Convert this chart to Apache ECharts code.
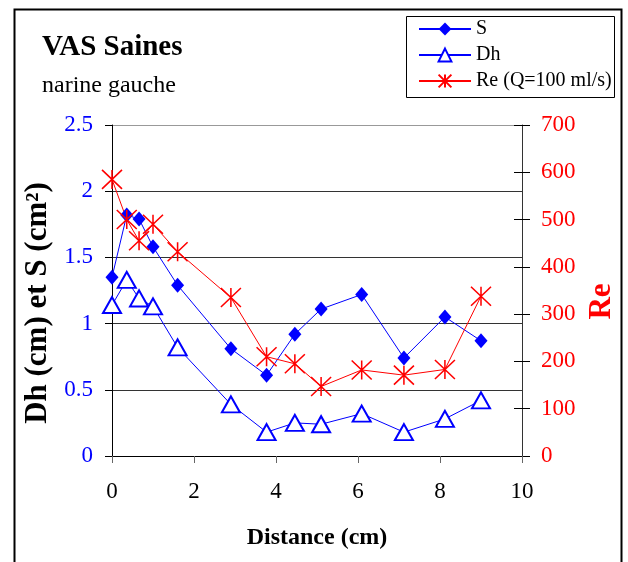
<!DOCTYPE html>
<html>
<head>
<meta charset="utf-8">
<script src="https://cdn.jsdelivr.net/npm/echarts@6/dist/echarts.min.js"></script>
<style>html,body{margin:0;padding:0;background:#fff}#c{width:628px;height:562px}</style>
</head>
<body>
<div id="c"></div>
<script>
// Data
const distance = [0, 0.36, 0.66, 1.0, 1.6, 2.9, 3.77, 4.46, 5.1, 6.09, 7.12, 8.12, 9.0];
const sValues  = [1.35, 1.82, 1.79, 1.58, 1.29, 0.81, 0.61, 0.92, 1.11, 1.22, 0.74, 1.05, 0.87];
const dhValues = [1.14, 1.33, 1.19, 1.13, 0.82, 0.39, 0.18, 0.25, 0.24, 0.32, 0.18, 0.28, 0.42];
const reValues = [585, 500, 455, 490, 432, 335, 210, 195, 147, 182, 171, 183, 338];
const seriesNames = ['S', 'Dh', 'Re (Q=100 ml/s)'];
const titleText = 'VAS Saines';
const subtitleText = 'narine gauche';
const xAxisTitle = 'Distance (cm)';
const leftAxisTitle = 'Dh (cm) et S (cm²)';
const rightAxisTitle = 'Re';

const FONT = 'Liberation Serif, Times New Roman, serif';
const BLUE = '#0000ff', RED = '#ff0000';
const pairs = (ys) => distance.map((d, i) => [d, ys[i]]);

const chart = echarts.init(document.getElementById('c'), null, {renderer: 'canvas'});
chart.setOption({
  backgroundColor: '#fff',
  animation: false,
  title: {
    text: titleText, subtext: subtitleText, left: 37, top: 28, itemGap: 12,
    textStyle: {fontFamily: FONT, fontSize: 29, fontWeight: 'bold', color: '#000'},
    subtextStyle: {fontFamily: FONT, fontSize: 24, color: '#000'}
  },
  graphic: [
    {type: 'rect', shape: {x: 14.5, y: 9.5, width: 607, height: 600}, style: {fill: 'none', stroke: '#000', lineWidth: 2}, z: 0, silent: true},
    {type: 'rect', shape: {x: 406.5, y: 16.5, width: 208, height: 81}, style: {fill: '#fff', stroke: '#000', lineWidth: 1}, z: 1, silent: true}
  ],
  legend: {
    data: seriesNames, orient: 'vertical', left: 413, top: 14,
    itemWidth: 52, itemHeight: 16, itemGap: 6, z: 5,
    textStyle: {fontFamily: FONT, fontSize: 20, lineHeight: 16, color: '#000'}
  },
  grid: {left: 112, right: 106, top: 125, bottom: 106, containLabel: false},
  xAxis: {
    type: 'value', min: 0, max: 10, interval: 2,
    name: xAxisTitle, nameLocation: 'middle', nameGap: 70,
    nameTextStyle: {fontFamily: FONT, fontSize: 24, fontWeight: 'bold', color: '#000'},
    axisLine: {show: true, lineStyle: {color: '#000', width: 1}},
    axisTick: {show: true, inside: false, length: 7, lineStyle: {color: '#666'}},
    axisLabel: {fontFamily: FONT, fontSize: 23, color: '#000', margin: 24},
    splitLine: {show: false}
  },
  yAxis: [
    {
      type: 'value', min: 0, max: 2.5, interval: 0.5, position: 'left',
      name: leftAxisTitle, nameLocation: 'middle', nameGap: 56, nameRotate: 90,
      nameTextStyle: {fontFamily: FONT, fontSize: 31, fontWeight: 'bold', color: '#000', padding: [0, 25, 0, 0]},
      axisLine: {show: true, lineStyle: {color: '#000', width: 1}},
      axisTick: {show: true, inside: false, length: 7, lineStyle: {color: '#000'}},
      axisLabel: {fontFamily: FONT, fontSize: 23, color: BLUE, margin: 19},
      splitLine: {show: true, lineStyle: {color: ['#000', '#333', '#333', '#333', '#333', '#999'], width: 1}}
    },
    {
      type: 'value', min: 0, max: 700, interval: 100, position: 'right',
      name: rightAxisTitle, nameLocation: 'middle', nameGap: 62, nameRotate: 90,
      nameTextStyle: {fontFamily: FONT, fontSize: 31, fontWeight: 'bold', color: RED, padding: [0, 22, 0, 0]},
      axisLine: {show: true, lineStyle: {color: '#333', width: 1}},
      axisTick: {show: true, inside: false, length: 8, lineStyle: {color: '#000'}},
      axisLabel: {fontFamily: FONT, fontSize: 23, color: RED, margin: 19},
      splitLine: {show: false}
    },
    {
      type: 'value', min: 0, max: 700, interval: 100, position: 'right',
      axisLine: {show: false},
      axisTick: {show: true, inside: true, length: 8, lineStyle: {color: '#000'}},
      axisLabel: {show: false},
      splitLine: {show: false}
    }
  ],
  series: [
    {
      name: seriesNames[0], type: 'line', yAxisIndex: 0, data: pairs(sValues),
      symbol: 'diamond', symbolSize: [13, 15],
      lineStyle: {color: BLUE, width: 1},
      itemStyle: {color: BLUE}
    },
    {
      name: seriesNames[1], type: 'line', yAxisIndex: 0, data: pairs(dhValues),
      symbol: 'triangle', symbolSize: [18, 16],
      lineStyle: {color: BLUE, width: 1},
      itemStyle: {color: '#fff', borderColor: BLUE, borderWidth: 2}
    },
    {
      name: seriesNames[2], type: 'line', yAxisIndex: 1, data: pairs(reValues),
      symbol: 'path://M0,0L20,20M20,0L0,20M10,0L10,20', symbolSize: [20, 19], symbolKeepAspect: false,
      lineStyle: {color: RED, width: 1},
      itemStyle: {color: 'rgba(0,0,0,0)', borderColor: RED, borderWidth: 1.5}
    }
  ]
});
</script>
</body>
</html>
